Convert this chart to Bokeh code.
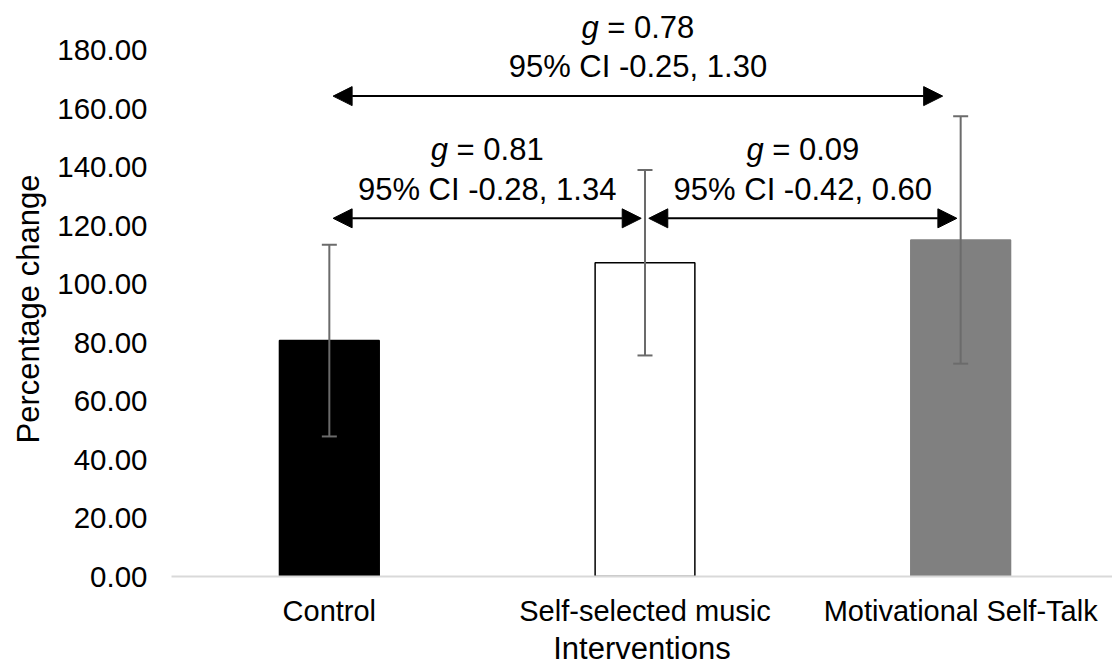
from bokeh.plotting import figure
from bokeh.models import (ColumnDataSource, Range1d, FixedTicker, Whisker, TeeHead,
                          Arrow, NormalHead, PrintfTickFormatter, Label, Title)
from bokeh.embed import file_html
from bokeh.resources import INLINE

# ---- data ----
categories = ["Control", "Self-selected music", "Motivational Self-Talk"]
means = [80.7, 107.3, 115.1]
errors = [32.8, 31.7, 42.3]
y_ticks = [0, 20, 40, 60, 80, 100, 120, 140, 160, 180]

# comparisons: (from index, to index, arrow level, g, CI low, CI high)
comp_from = [0, 0, 1]
comp_to = [2, 1, 2]
comp_level = [164.3, 122.5, 122.5]
comp_g = [0.78, 0.81, 0.09]
comp_lo = [-0.25, -0.28, -0.42]
comp_hi = [1.30, 1.34, 0.60]

# ---- styles ----
bar_fill = ["#000000", "#ffffff", "#808080"]
bar_line = ["#000000", "#000000", "#808080"]
FONT = "Liberation Sans"
ANN_FS = 31

xs = list(range(len(categories)))
src = ColumnDataSource(dict(
    x=xs, top=means,
    upper=[m + e for m, e in zip(means, errors)],
    lower=[m - e for m, e in zip(means, errors)],
    fill=bar_fill, line=bar_line,
))

p = figure(width=1112, height=670, output_backend="svg", toolbar_location=None,
           x_range=Range1d(-0.5, 2.481), y_range=Range1d(0, 197),
           min_border_left=170, min_border_right=0, min_border_top=0, min_border_bottom=94)
p.outline_line_color = None
p.xgrid.visible = False
p.ygrid.visible = False
p.background_fill_color = "white"
p.border_fill_color = "white"

p.vbar(x="x", top="top", width=0.316, bottom=0, source=src,
       fill_color="fill", line_color="line", line_width=1.5)

p.add_layout(Whisker(base="x", upper="upper", lower="lower", source=src, level="overlay",
                     line_color="#6b6b6b", line_width=2,
                     upper_head=TeeHead(size=15, line_color="#6b6b6b", line_width=2),
                     lower_head=TeeHead(size=15, line_color="#6b6b6b", line_width=2)))

# comparison arrows and labels
gap = 0.012
for f, t, lvl, g, lo, hi in zip(comp_from, comp_to, comp_level, comp_g, comp_lo, comp_hi):
    x0 = f + gap
    x1 = t - (0.057 if t - f > 1 else gap)
    p.add_layout(Arrow(x_start=x0, y_start=lvl, x_end=x1, y_end=lvl,
                       line_color="black", line_width=2,
                       start=NormalHead(size=19, fill_color="black", line_color="black"),
                       end=NormalHead(size=19, fill_color="black", line_color="black")))
    xm = (x0 + x1) / 2
    p.add_layout(Label(x=xm, y=lvl + 10, text=f"95% CI {lo:.2f}, {hi:.2f}",
                       text_align="center", text_baseline="middle",
                       text_font=FONT, text_font_size=f"{ANN_FS}px", text_color="black"))
    off = -1.265 * ANN_FS
    p.add_layout(Label(x=xm, y=lvl + 23.5, text="g", x_offset=off,
                       text_align="right", text_baseline="middle",
                       text_font=FONT, text_font_style="italic",
                       text_font_size=f"{ANN_FS}px", text_color="black"))
    p.add_layout(Label(x=xm, y=lvl + 23.5, text=f"= {g:.2f}", x_offset=off + 0.278 * ANN_FS,
                       text_align="left", text_baseline="middle",
                       text_font=FONT, text_font_size=f"{ANN_FS}px", text_color="black"))

# x axis
xa = p.xaxis[0]
xa.ticker = FixedTicker(ticks=xs)
xa.major_label_overrides = {i: c for i, c in zip(xs, categories)}
xa.axis_line_color = "#d9d9d9"
xa.axis_line_width = 2
xa.major_tick_line_color = None
xa.minor_tick_line_color = None
xa.major_label_text_font = FONT
xa.major_label_text_font_size = "29px"
xa.major_label_text_color = "black"
xa.major_label_standoff = 12
xa.axis_label = "Interventions"
xa.axis_label_text_font = FONT
xa.axis_label_text_font_size = "31px"
xa.axis_label_text_font_style = "normal"
xa.axis_label_text_color = "black"
xa.axis_label_standoff = 1

# y axis
ya = p.yaxis[0]
ya.ticker = FixedTicker(ticks=y_ticks)
ya.formatter = PrintfTickFormatter(format="%.2f")
ya.axis_line_color = None
ya.major_tick_line_color = None
ya.minor_tick_line_color = None
ya.major_label_text_font = FONT
ya.major_label_text_font_size = "29.5px"
ya.major_label_text_color = "black"
ya.major_label_standoff = 18

# y axis title, centred on the 0-180 part of the axis
p.add_layout(Title(text="Percentage change", align="left", offset=133,
                   text_font=FONT, text_font_size="31px", text_font_style="normal",
                   text_color="black", standoff=17), "left")

open("out.html", "w").write(file_html(p, INLINE))
